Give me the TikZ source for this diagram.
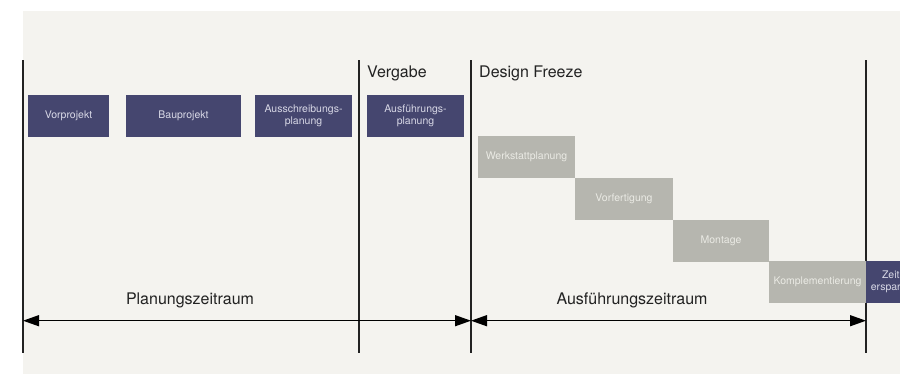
\documentclass[tikz,border=0pt]{standalone}
\usepackage{fontspec}
\setmainfont{TeX Gyre Heros}
\usetikzlibrary{arrows.meta}

\definecolor{paper}{HTML}{F4F3EF}
\definecolor{navy}{HTML}{45466F}
\definecolor{stone}{HTML}{B6B6AF}
\definecolor{navytext}{HTML}{D8D8E6}
\definecolor{stonetext}{HTML}{EAEAE4}
\definecolor{ink}{HTML}{222222}

\tikzset{
  phase/.style = {fill = navy, text = navytext, inner sep = 0pt, align = center,
    minimum height = 42bp, font = \fontsize{10.5bp}{12bp}\selectfont},
  works/.style = {fill = stone, text = stonetext, inner sep = 0pt, align = center,
    minimum height = 42bp, font = \fontsize{10.5bp}{12bp}\selectfont},
  mark line/.style = {draw = ink, line width = 1.1bp},
  span/.style = {draw = black, line width = 1.3bp, {Triangle[length = 16bp, width = 11bp]}-{Triangle[length = 16bp, width = 11bp]}},
  big/.style = {inner sep = 0pt, text = ink, font = \fontsize{16bp}{19bp}\selectfont}
}

\begin{document}
\begin{tikzpicture} [x = 1bp, y = -1bp]
\useasboundingbox (0, 0) rectangle (900, 374);
\fill[paper] (23, 11) rectangle (900, 374);
% milestones
\coordinate (t1) at (23, 60);   \coordinate (b1) at (23, 353);
\coordinate (t2) at (359, 60);  \coordinate (b2) at (359, 353);
\coordinate (t3) at (471, 60);  \coordinate (b3) at (471, 353);
\coordinate (t4) at (866, 60);  \coordinate (b4) at (866, 353);
\draw[mark line] (t1) -- (b1);
\draw[mark line] (t2) -- (b2);
\draw[mark line] (t3) -- (b3);
\draw[mark line] (t4) -- (b4);
% planning phases
\node[phase, minimum width = 81bp] (vor) at (68.5, 116) {Vorprojekt};
\node[phase, minimum width = 115bp] (bau) at (183.5, 116) {Bauprojekt};
\node[phase, minimum width = 97bp] (aus) at (303.5, 116) {Ausschreibungs-\\planung};
\node[phase, minimum width = 97bp] (afp) at (415.5, 116) {Ausführungs-\\planung};
% execution steps
\node[works, minimum width = 97bp] (werk) at (526.5, 157) {Werkstattplanung};
\node[works, minimum width = 98bp] (fert) at (624, 199) {Vorfertigung};
\node[works, minimum width = 96bp] (mont) at (721, 240.5) {Montage};
\node[works, minimum width = 97bp] (kompl) at (817.5, 282) {Komplementierung};
\node[phase, minimum width = 53bp] (zeit) at (892.5, 282) {Zeit-\\ersparnis};
% labels
\node[big, anchor = base west] (verg) at (367, 77) {Vergabe};
\node[big, anchor = base west] (freeze) at (479, 77) {Design Freeze};
\node[big, anchor = base] (plan) at (190, 304) {Planungszeitraum};
\node[big, anchor = base] (ausf) at (632, 304) {Ausführungszeitraum};
% time spans
\coordinate (a1) at (23, 320.7);
\coordinate (a2) at (471, 320.7);
\coordinate (a3) at (866, 320.7);
\draw[span] (a1) -- (a2);
\draw[span] (a2) -- (a3);
\end{tikzpicture}
\end{document}
